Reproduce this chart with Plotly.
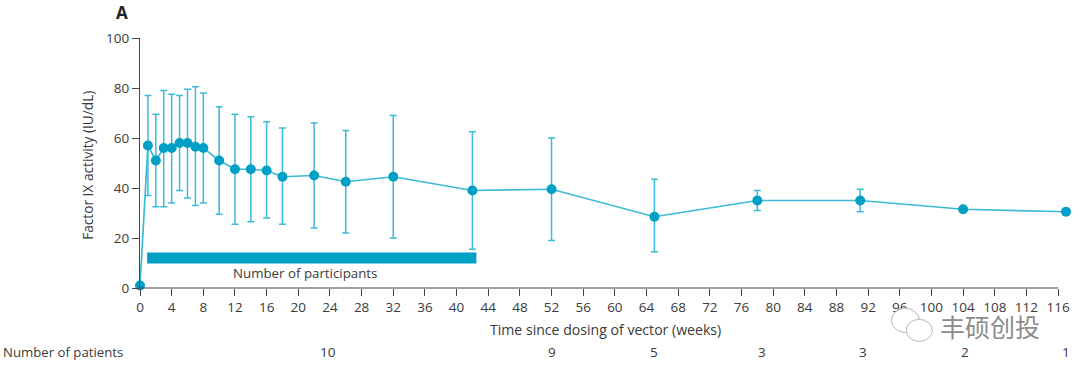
import plotly.graph_objects as go

weeks = [0, 1, 2, 3, 4, 5, 6, 7, 8, 10, 12, 14, 16, 18, 22, 26, 32, 42, 52, 65, 78, 91, 104, 117]
mean_fix = [1, 57, 51, 56, 56, 58, 58, 56.5, 56, 51, 47.5, 47.5, 47, 44.5, 45, 42.5, 44.5, 39, 39.5, 28.5, 35, 35, 31.5, 30.5]
upper = [None, 77, 69.5, 79, 77.5, 77, 79.5, 80.5, 78, 72.5, 69.5, 68.5, 66.5, 64, 66, 63, 69, 62.5, 60, 43.5, 39, 39.5, None, None]
lower = [None, 37, 32.5, 32.5, 34, 39, 36, 33, 34, 29.5, 25.5, 26.5, 28, 25.5, 24, 22, 20, 15.5, 19, 14.5, 31, 30.5, None, None]

bar_x = [0.9, 42.5]
bar_y = [12, 12]
bar_label = "Number of participants"

patient_x = [23.8, 52, 65, 78.6, 91.3, 104.2, 117]
patient_n = ["10", "9", "5", "3", "3", "2", "1"]

x_ticks = list(range(0, 117, 4))
y_ticks = [0, 20, 40, 60, 80, 100]

TEAL = "#00A0C6"
ERR = "#3DBAD6"
INK = "#3a3a3a"
AXIS = "#444444"
FONT = "Open Sans"

L, T, R, B = 139.7, 38.3, 1066.9, 287.7


def fx(p):
    return (p - L) / (R - L)


def fy(p):
    return (B - p) / (B - T)


err_plus = [0 if u is None else u - m for u, m in zip(upper, mean_fix)]
err_minus = [0 if l is None else m - l for l, m in zip(lower, mean_fix)]

fig = go.Figure()
fig.add_trace(go.Scatter(
    x=bar_x, y=bar_y, mode="lines",
    line=dict(color=TEAL, width=11), hoverinfo="skip", showlegend=False))
fig.add_trace(go.Scatter(
    x=weeks, y=mean_fix, mode="lines+markers",
    line=dict(color=ERR, width=1.7),
    marker=dict(color=TEAL, size=10),
    error_y=dict(type="data", symmetric=False, array=err_plus, arrayminus=err_minus,
                 color=ERR, thickness=1.5, width=3.5),
    cliponaxis=False, showlegend=False))


def note(text, x, y, size, **kw):
    return dict(x=x, y=y, xref=kw.pop("xref", "paper"), yref=kw.pop("yref", "paper"),
                text=text, showarrow=False, xanchor=kw.pop("xanchor", "center"), yanchor="middle",
                font=dict(size=size, color=kw.pop("color", INK), family=kw.pop("family", FONT)), **kw)


annotations = [
    note(bar_label, 20.9, 6, 13.3, xref="x", yref="y"),
    note("<b>A</b>", fx(122), fy(13), 17, color="#222222"),
    note("Number of patients", fx(1), fy(352), 13.2, xanchor="left"),
    note("Time since dosing of vector (weeks)", fx(606), fy(329), 14.1),
    note("Factor IX activity (IU/dL)", fx(87), fy(165.5), 13.7, textangle=-90),
    note("丰硕创投", fx(991), fy(326), 25, color="#8c8c8c", family="Noto Sans CJK SC"),
]
for xv, n in zip(patient_x, patient_n):
    annotations.append(note(n, xv, fy(352), 13.5, xref="x"))

shapes = [
    dict(type="line", xref="x", yref="paper", x0=0, x1=x_ticks[-1], y0=0, y1=0, layer="above",
         line=dict(color=AXIS, width=1.2)),
    dict(type="circle", xref="paper", yref="paper", layer="above",
         x0=fx(892), x1=fx(920), y0=fy(308), y1=fy(332),
         line=dict(color="#b5b5b5", width=1), fillcolor="white"),
    dict(type="circle", xref="paper", yref="paper", layer="above",
         x0=fx(907), x1=fx(933), y0=fy(319), y1=fy(341),
         line=dict(color="#b5b5b5", width=1), fillcolor="white"),
]

fig.update_layout(
    width=1080, height=375, autosize=False,
    margin=dict(l=L, r=1080 - R - 3.5, t=T, b=375 - B, pad=0),
    paper_bgcolor="white", plot_bgcolor="white",
    font=dict(family=FONT, size=13.5, color=INK),
    annotations=annotations, shapes=shapes,
    xaxis=dict(range=[0, 117], tickmode="array", tickvals=x_ticks, ticktext=[str(t) for t in x_ticks],
               showgrid=False, zeroline=False, showline=False,
               ticks="outside", ticklen=7, tickwidth=1, tickcolor=AXIS,
               tickangle=0, tickfont=dict(size=13.5, color=INK)),
    yaxis=dict(range=[0, 100], tickmode="array", tickvals=y_ticks,
               showgrid=False, zeroline=False, showline=True, linecolor=AXIS, linewidth=1.2,
               ticks="outside", ticklen=7, tickwidth=1, tickcolor=AXIS,
               tickfont=dict(size=13.5, color=INK)),
)
fig.write_html("out.html", config=dict(displayModeBar=False),
               post_script="document.body.style.margin='0';document.body.style.overflow='hidden';")
